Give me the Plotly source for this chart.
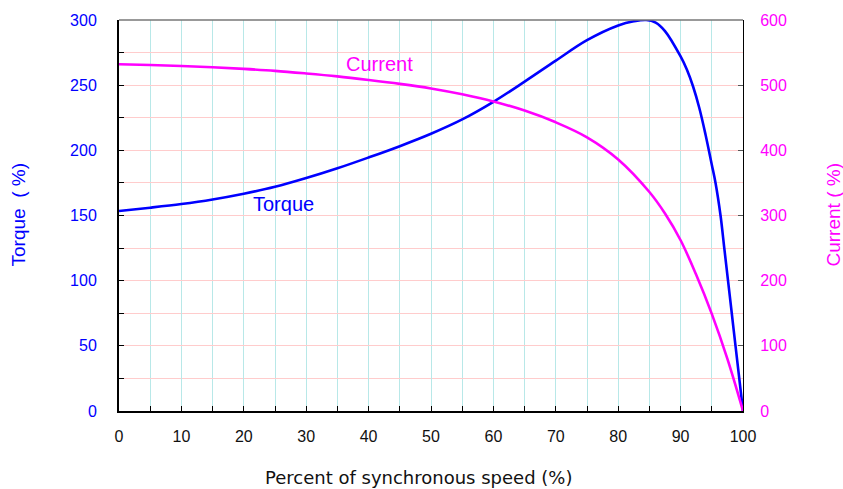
import plotly.graph_objects as go

# Speed-torque and speed-current characteristics of an induction motor
torque_speed = [0, 5, 10, 15, 20, 25, 30, 35, 40, 45, 50, 55, 60, 65, 70, 75, 80,
                82.5, 84.5, 86, 87.5, 90, 91, 92, 93, 94, 95, 95.6, 96.4, 97.0,
                97.6, 98.2, 98.8, 99.4, 100]
torque_pct = [153.5, 156, 158.8, 162.3, 166.7, 172, 178.7, 186.2, 194.5, 203.2, 212.7,
              223.7, 237.2, 252.7, 268.8, 284.5, 295.8, 299, 300, 298, 291.5, 272,
              262, 249, 232.5, 212, 189, 175, 150, 125, 100, 75, 50, 25, 0]

current_speed = [0, 5, 10, 15, 20, 25, 30, 35, 40, 45, 50, 55, 60, 65, 70, 75, 80,
                 85, 87.5, 90, 92.5, 95, 97.5, 100]
current_pct = [532, 531, 529.5, 527.5, 525, 522, 518, 513.5, 508, 502, 495, 486, 475,
               461, 443, 420, 386, 336, 303, 262, 209, 149, 80, 0]

x_ticks = list(range(0, 101, 10))
torque_ticks = list(range(0, 301, 50))
current_ticks = list(range(0, 601, 100))

BLUE = "#0000ff"
MAGENTA = "#ff00ff"
TICK_FONT = "Liberation Sans, Arial, sans-serif"

fig = go.Figure()
fig.add_trace(go.Scatter(
    x=torque_speed, y=torque_pct, mode="lines", name="Torque",
    line=dict(color=BLUE, width=2.6, shape="spline", smoothing=1.0),
    yaxis="y", cliponaxis=False,
))
fig.add_trace(go.Scatter(
    x=current_speed, y=current_pct, mode="lines", name="Current",
    line=dict(color=MAGENTA, width=2.6, shape="spline", smoothing=1.0),
    yaxis="y2",
))

fig.update_layout(
    width=843, height=489,
    margin=dict(l=119, r=100, t=18, b=78),
    paper_bgcolor="white", plot_bgcolor="white",
    showlegend=False,
    xaxis=dict(
        range=[0, 100], tickvals=x_ticks, ticks="inside", ticklen=5,
        tickcolor="black", tickwidth=1,
        showline=True, linecolor="black", linewidth=2,
        showgrid=True, gridcolor="#b8e8e8", gridwidth=1,
        minor=dict(dtick=5, ticks="inside", ticklen=5, tickcolor="black",
                   showgrid=True, gridcolor="#b8e8e8", gridwidth=1),
        tickfont=dict(family=TICK_FONT, size=16, color="#111111"),
        ticklabelstandoff=10, zeroline=False,
    ),
    yaxis=dict(
        range=[0, 300], tickvals=torque_ticks, ticks="inside", ticklen=5,
        tickcolor="black", tickwidth=1,
        showline=True, linecolor="black", linewidth=2,
        showgrid=True, gridcolor="#ffcccc", gridwidth=1,
        minor=dict(dtick=25, ticks="inside", ticklen=5, tickcolor="black",
                   showgrid=True, gridcolor="#ffcccc", gridwidth=1),
        tickfont=dict(family=TICK_FONT, size=16, color=BLUE),
        ticklabelstandoff=17, zeroline=False,
    ),
    yaxis2=dict(
        range=[0, 600], tickvals=current_ticks, overlaying="y", side="right",
        ticks="inside", ticklen=5, tickcolor="#555555", tickwidth=1,
        showline=True, linecolor="black", linewidth=1, showgrid=False,
        tickfont=dict(family=TICK_FONT, size=16, color=MAGENTA),
        ticklabelstandoff=13, zeroline=False,
    ),
    shapes=[dict(type="line", xref="paper", yref="paper", x0=0, x1=1, y0=1, y1=1,
                 line=dict(color="#777777", width=1.5))],
    annotations=[
        dict(text="Torque", x=26.4, y=158.8, xref="x", yref="y", showarrow=False,
             font=dict(family=TICK_FONT, size=20, color=BLUE)),
        dict(text="Current", x=41.8, y=266, xref="x", yref="y", showarrow=False,
             font=dict(family=TICK_FONT, size=20, color=MAGENTA)),
        dict(text="Torque  ( %)", xref="paper", yref="paper", x=0, y=0.5,
             xanchor="center", yanchor="middle",
             xshift=-101, textangle=-90, showarrow=False,
             font=dict(family=TICK_FONT, size=19, color=BLUE)),
        dict(text="Current ( %)", xref="paper", yref="paper", x=1, y=0.5,
             xanchor="center", yanchor="middle",
             xshift=90, textangle=-90, showarrow=False,
             font=dict(family=TICK_FONT, size=19, color=MAGENTA)),
        dict(text="Percent of synchronous speed (%)", xref="paper", yref="paper",
             x=0.5, y=0, xshift=-13, yshift=-66, yanchor="middle", showarrow=False,
             font=dict(family="DejaVu Sans, Verdana, sans-serif", size=18,
                       color="#111111")),
    ],
)

fig.write_html("out.html")
